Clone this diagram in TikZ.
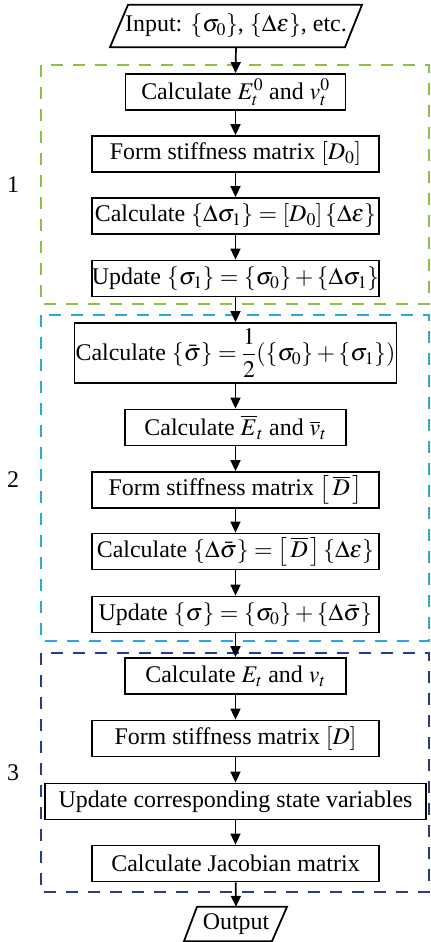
\documentclass[tikz,border=0pt]{standalone}
\usepackage{amsmath}
\usepackage{mathptmx}
\usepackage[no-math]{fontspec}
\setmainfont{Liberation Serif}
\usetikzlibrary{arrows.meta}
\definecolor{frameA}{RGB}{141,194,63}
\definecolor{frameB}{RGB}{41,168,224}
\definecolor{frameC}{RGB}{43,57,144}
\newcommand{\vb}[1]{\left\{#1\right\}}
\newcommand{\mb}[1]{\left[#1\right]}
\tikzset{
  txt/.style={font=\fontsize{24}{28}\selectfont, inner sep=0pt},
  stepbox/.style={txt, draw, line width=1.8pt, minimum width=#1, minimum height=36bp},
  stepbox/.default=287bp,
  flow/.style={-{Triangle[length=11bp,width=10bp]}, line width=1.7pt},
  frame/.style={line width=2.6pt, dash pattern=on 12bp off 10bp},
  io/.style={line width=1.8pt, line join=miter}
}
\begin{document}
\begin{tikzpicture}[x=1bp,y=-1bp]
\useasboundingbox (0,0) rectangle (430,942);
% frames
\draw[frame, frameA] (41,65) rectangle (429,304);
\draw[frame, frameB] (41,315) rectangle (429,641);
\draw[frame, frameC] (41,653) rectangle (429,892);
\node[txt] (lab1) at (13,185) {1};
\node[txt] (lab2) at (13,480) {2};
\node[txt] (lab3) at (13,773) {3};
% input
\node[txt, minimum width=235bp, minimum height=42bp] (in) at (236,26) {Input: $\vb{\sigma_0}$, $\vb{\Delta\varepsilon}$, etc.};
\draw[io] ([xshift=-108bp]in.north) -- ([xshift=126bp]in.north) -- ([xshift=109bp]in.south) -- ([xshift=-126bp]in.south) -- cycle;
% steps
\node[stepbox=220bp] (b1) at (235.5,92) {Calculate $E_t^0$ and $v_t^0$};
\node[stepbox] (b2) at (235.5,154) {Form stiffness matrix $\mb{D_0}$};
\node[stepbox] (b3) at (235.5,216) {Calculate $\vb{\Delta\sigma_1}=\mb{D_0}\vb{\Delta\varepsilon}$};
\node[stepbox] (b4) at (235.5,278.5) {Update $\vb{\sigma_1}=\vb{\sigma_0}+\vb{\Delta\sigma_1}$};
\node[stepbox=322bp, minimum height=60bp] (b5) at (235.5,353) {Calculate $\vb{\bar\sigma}=\dfrac{1}{2}(\vb{\sigma_0}+\vb{\sigma_1})$};
\node[stepbox=221bp] (b6) at (235.5,427.5) {Calculate $\overline{E}_t$ and $\overline{v}_t$};
\node[stepbox] (b7) at (235.5,490) {Form stiffness matrix $\left[\,\overline{D}\,\right]$};
\node[stepbox] (b8) at (235.5,551.5) {Calculate $\vb{\Delta\bar\sigma}=\left[\,\overline{D}\,\right]\vb{\Delta\varepsilon}$};
\node[stepbox] (b9) at (235.5,614.5) {Update $\vb{\sigma}=\vb{\sigma_0}+\vb{\Delta\bar\sigma}$};
\node[stepbox=221bp] (b10) at (235.5,676) {Calculate $E_t$ and $v_t$};
\node[stepbox] (b11) at (235.5,738.5) {Form stiffness matrix $\mb{D}$};
\node[stepbox=381bp] (b12) at (235.5,801.5) {Update corresponding state variables};
\node[stepbox] (b13) at (235.5,863.5) {Calculate Jacobian matrix};
% output
\node[txt, minimum width=90bp, minimum height=34bp] (out) at (236,924) {Output};
\draw[io] ([xshift=-39bp]out.north) -- ([xshift=51bp]out.north) -- ([xshift=36bp]out.south) -- ([xshift=-52bp]out.south) -- cycle;
% arrows
\draw[flow] (in.south) -- (b1.north);
\draw[flow] (b1) -- (b2);
\draw[flow] (b2) -- (b3);
\draw[flow] (b3) -- (b4);
\draw[flow] (b4) -- (b5);
\draw[flow] (b5) -- (b6);
\draw[flow] (b6) -- (b7);
\draw[flow] (b7) -- (b8);
\draw[flow] (b8) -- (b9);
\draw[flow] (b9) -- (b10);
\draw[flow] (b10) -- (b11);
\draw[flow] (b11) -- (b12);
\draw[flow] (b12) -- (b13);
\draw[flow] (b13) -- (out.north);
\end{tikzpicture}
\end{document}
